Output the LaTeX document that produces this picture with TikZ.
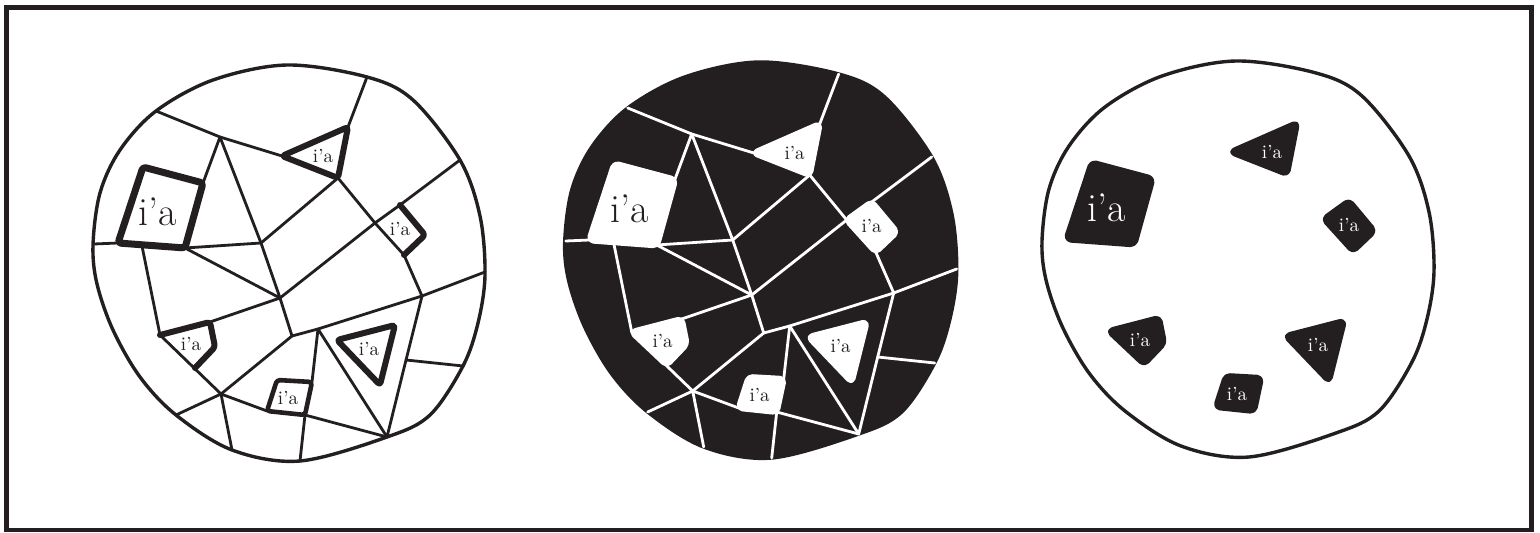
\documentclass[tikz,border=0pt]{standalone}
\definecolor{ink}{HTML}{231F20}
\newcommand\rimpath{plot[smooth cycle, tension=0.55] coordinates {(93,245) (97,284) (113,330) (140,377) (176,415) (232,450) (300,461) (387,437) (430,415) (463,366) (478,323) (485,275) (480,216) (460,160) (413,100) (367,77) (287,65) (213,80) (156,111) (120,150) (100,193)}}
\newcommand\defpts{%
\coordinate (A) at (94,244);
\coordinate (BL) at (118,243);
\coordinate (BR) at (185,248);
\coordinate (TR) at (203,183);
\coordinate (TL) at (143,167);
\coordinate (S) at (142,246);
\coordinate (Cn) at (156,111);
\coordinate (T) at (220,137);
\coordinate (Q1) at (282,156);
\coordinate (Q2) at (348,127);
\coordinate (Q3) at (338,178);
\coordinate (Ct) at (367,77);
\coordinate (M) at (261,243);
\coordinate (V1) at (280,298);
\coordinate (Bx1) at (375,223);
\coordinate (Bx2) at (400,205);
\coordinate (Bx3) at (425,235);
\coordinate (Bx4) at (404,255);
\coordinate (Cr1) at (460,160);
\coordinate (V4) at (422,296);
\coordinate (Cr2) at (485,272);
\coordinate (L1) at (160,335);
\coordinate (L2) at (210,322);
\coordinate (L3) at (215,347);
\coordinate (L4) at (195,368);
\coordinate (V2) at (221,394);
\coordinate (Cl) at (176,415);
\coordinate (Cb1) at (232,450);
\coordinate (V3) at (292,336);
\coordinate (P) at (318,329);
\coordinate (D1) at (277,380);
\coordinate (D2) at (312,382);
\coordinate (D3) at (305,415);
\coordinate (D4) at (267,411);
\coordinate (Cb2) at (300,461);
\coordinate (Bt) at (387,437);
\coordinate (R1) at (406,360);
\coordinate (Cr3) at (463,366);
\coordinate (I1) at (337,340);
\coordinate (I2) at (395,325);
\coordinate (I3) at (380,385);
}
\newcommand\netlines[1]{%
\draw[net,#1] (A) -- (BL);
\draw[net,#1] (Cn) -- (T) -- (Q1);
\draw[net,#1] (Q2) -- (Ct);
\draw[net,#1] (TR) -- (T) -- (M) -- (V1);
\draw[net,#1] (BR) -- (M) -- (Q3);
\draw[net,#1] (BR) -- (V1);
\draw[net,#1] (S) -- (L1) -- (V2);
\draw[net,#1] (L2) -- (V1);
\draw[net,#1] (V1) -- (Bx1) -- (Bx2) -- (Cr1);
\draw[net,#1] (Q3) -- (Bx1) -- (Bx4) -- (V4) -- (Cr2);
\draw[net,#1] (V1) -- (V3) -- (P) -- (V4);
\draw[net,#1] (V2) -- (V3);
\draw[net,#1] (Cl) -- (V2) -- (Cb1);
\draw[net,#1] (V2) -- (D4) -- (D3) -- (Bt);
\draw[net,#1] (D3) -- (Cb2);
\draw[net,#1] (P) -- (D2);
\draw[net,#1] (P) -- (Bt) -- (R1) -- (V4);
\draw[net,#1] (R1) -- (Cr3);
}
\newcommand\patchset[1]{%
\filldraw[patch,#1,line width=3.4pt] (TL) -- (TR) -- (BR) -- (BL) -- cycle;
\filldraw[patch,#1] (Q1) -- (Q2) -- (Q3) -- cycle;
\filldraw[patch,#1] (Bx1) -- (Bx2) -- (Bx3) -- (Bx4) -- cycle;
\filldraw[patch,#1] (L1) -- (L2) -- (L3) -- (L4) -- cycle;
\filldraw[patch,#1] (D1) -- (D2) -- (D3) -- (D4) -- cycle;
\filldraw[patch,#1] (I1) -- (I2) -- (I3) -- cycle;
}
\newcommand\labelset[2]{%
\node[biglbl,#1] (#2big) at (158,212) {i’a};
\node[lbl,#1] (#2tri) at (323,156) {i’a};
\node[lbl,#1] (#2box) at (400,229) {i’a};
\node[lbl,#1] (#2left) at (191,344) {i’a};
\node[lbl,#1] (#2bot) at (288,398) {i’a};
\node[lbl,#1] (#2in) at (369,349) {i’a};
}
\begin{document}
\begin{tikzpicture}[x=0.5pt,y=-0.5pt,
  net/.style={line width=1.4pt, line cap=round, line join=round},
  rim/.style={line width=1.7pt},
  fat/.style={line width=3pt, line join=round, rounded corners=1.5pt, line cap=round},
  patch/.style={line width=3pt, line join=round, rounded corners=2pt},
  lbl/.style={font=\fontsize{9.5}{9.5}\selectfont, inner sep=0pt},
  biglbl/.style={font=\fontsize{20}{20}\selectfont, inner sep=0pt}]
\useasboundingbox (0,0) rectangle (1540,533);
\fill[white] (0,0) rectangle (1540,533);
\draw[ink, line width=2.25pt] (6.7,7.5) rectangle (1531.7,530);
% circle 1: outlined network
\begin{scope}
\defpts
\netlines{ink}
\draw[fat,ink,line width=3.5pt] (TL) -- (TR) -- (BR) -- (BL) -- cycle;
\draw[fat,ink] (Q1) -- (Q2) -- (Q3) -- cycle;
\draw[fat,ink] (Bx2) -- (Bx3) -- (Bx4);
\draw[fat,ink] (L1) -- (L2) -- (L3) -- (L4);
\draw[fat,ink,line width=2.3pt] (D1) -- (D2) -- (D3) -- (D4) -- cycle;
\draw[fat,ink] (I1) -- (I2) -- (I3) -- cycle;
\draw[rim,ink] \rimpath;
\labelset{ink}{a}
\end{scope}
% circle 2: black with white network
\begin{scope}[shift={(471.7,-3)}]
\defpts
\filldraw[rim,ink] \rimpath;
\netlines{white}
\patchset{white}
\labelset{ink}{b}
\end{scope}
% circle 3: only patches
\begin{scope}[shift={(949,-4)}]
\defpts
\draw[rim,ink] \rimpath;
\patchset{ink}
\labelset{white}{c}
\end{scope}
\end{tikzpicture}
\end{document}
